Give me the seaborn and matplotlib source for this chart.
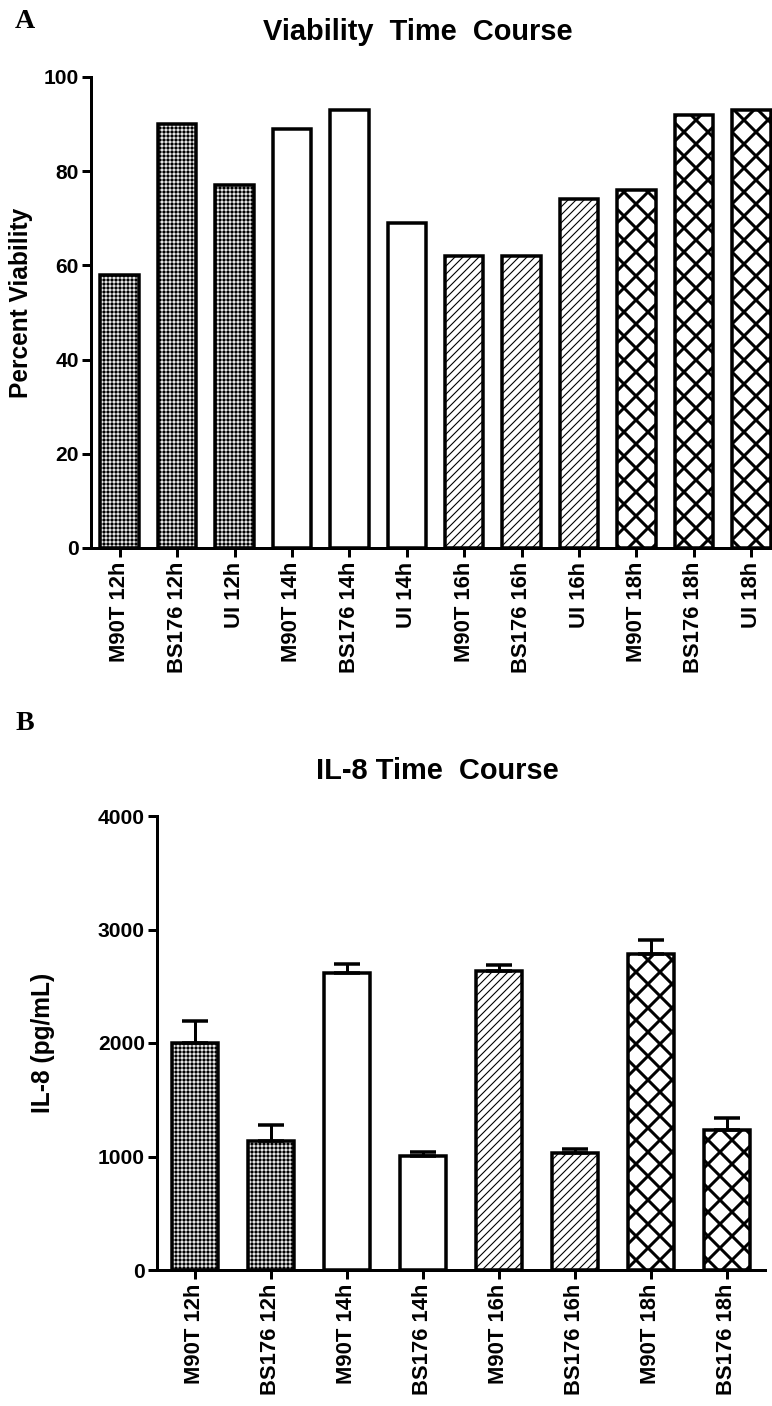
import matplotlib

matplotlib.use("Agg")

import matplotlib.pyplot as plt
import numpy as np
import seaborn as sns

# panel A: viability
via_labels = ["M90T 12h", "BS176 12h", "UI 12h",
              "M90T 14h", "BS176 14h", "UI 14h",
              "M90T 16h", "BS176 16h", "UI 16h",
              "M90T 18h", "BS176 18h", "UI 18h"]
via_values = [58, 90, 77, 89, 93, 69, 62, 62, 74, 76, 92, 93]

# panel B: IL-8
il8_labels = ["M90T 12h", "BS176 12h", "M90T 14h", "BS176 14h",
              "M90T 16h", "BS176 16h", "M90T 18h", "BS176 18h"]
il8_values = [2000, 1135, 2615, 1005, 2635, 1030, 2785, 1235]
il8_err = [195, 140, 80, 38, 55, 35, 125, 105]

# fill per time point: face, hatch colour, hatch, hatch linewidth
FILLS = {
    "12h": ("black", "white", "+++", 0.9),
    "14h": ("white", "white", "", 0.5),
    "16h": ("white", "black", "///", 1.1),
    "18h": ("white", "black", "x", 3.0),
}

sns.set_style("ticks")
plt.rcParams["font.family"] = ["Liberation Sans", "DejaVu Sans"]
plt.rcParams["font.weight"] = "bold"
for key in ["text.color", "axes.labelcolor", "xtick.color", "ytick.color",
            "axes.edgecolor"]:
    plt.rcParams[key] = "black"

DPI = 72
W, H = 772, 1406


def hatched_bars(ax, labels, values, width, lw=3.5):
    """Fill layer with hatches, then an outline layer on top."""
    sns.barplot(x=labels, y=values, color="white", width=width,
                linewidth=0, ax=ax, zorder=2)
    for patch, lab in zip(ax.patches, labels):
        face, hcol, hatch, hlw = FILLS[lab.split()[-1]]
        patch.set_facecolor(face)
        patch.set_edgecolor(hcol)
        patch.set_hatch(hatch)
        if hasattr(patch, "set_hatch_linewidth"):
            patch.set_hatch_linewidth(hlw)
    sns.barplot(x=labels, y=values, fill=False, color="black", width=width,
                linewidth=lw, ax=ax, zorder=3)
    for patch in ax.patches[len(labels):]:
        patch.set_joinstyle("miter")


def style_axes(ax, yticks, tick_size):
    sns.despine(ax=ax)
    for side in ["left", "bottom"]:
        ax.spines[side].set_linewidth(3)
        ax.spines[side].set_capstyle("projecting")
    ax.set_yticks(yticks)
    ax.set_ylim(yticks[0], yticks[-1])
    ax.set_xlim(-0.5, len(ax.get_xticks()) - 0.5)
    ax.tick_params(axis="both", length=9, width=3, direction="out",
                   color="black", labelcolor="black")
    ax.tick_params(axis="y", labelsize=21, pad=3)
    ax.tick_params(axis="x", labelsize=tick_size, pad=5, labelrotation=90)
    for t in ax.get_xticklabels() + ax.get_yticklabels():
        t.set_fontweight("bold")
    ax.set_xlabel("")


fig = plt.figure(figsize=(W / DPI, H / DPI), dpi=DPI)

# ---- panel A
ax1 = fig.add_axes([91 / W, 1 - 548 / H, 689 / W, 471 / H])
hatched_bars(ax1, via_labels, via_values, 0.67)
style_axes(ax1, np.arange(0, 101, 20), 22)
ax1.set_ylabel("Percent Viability", fontsize=24.5, fontweight="bold")
ax1.yaxis.set_label_coords((33 - 91) / 689, 0.52)

# ---- panel B
ax2 = fig.add_axes([157 / W, 1 - 1270 / H, 608 / W, 454 / H])
hatched_bars(ax2, il8_labels, il8_values, 0.615)
n = len(il8_values)
ax2.errorbar(np.arange(n), il8_values, yerr=[np.zeros(n), il8_err],
             fmt="none", ecolor="black", elinewidth=3, capsize=13,
             capthick=3.5, zorder=4)
style_axes(ax2, np.arange(0, 4001, 1000), 22)
ax2.set_ylabel("IL-8 (pg/mL)", fontsize=24.5, fontweight="bold")
ax2.yaxis.set_label_coords((55 - 157) / 608, 0.5)

# titles and panel letters
fig.text(418 / W, 1 - 32 / H, "Viability  Time  Course", ha="center",
         va="center", fontsize=29, fontweight="bold")
fig.text(437 / W, 1 - 771 / H, "IL-8 Time  Course", ha="center",
         va="center", fontsize=29, fontweight="bold")
fig.text(15 / W, 1 - 21 / H, "A", ha="left", va="center", fontsize=28,
         fontweight="bold", family="Liberation Serif")
fig.text(15 / W, 1 - 724 / H, "B", ha="left", va="center", fontsize=28,
         fontweight="bold", family="Liberation Serif")

fig.savefig("out.png", dpi=DPI)
